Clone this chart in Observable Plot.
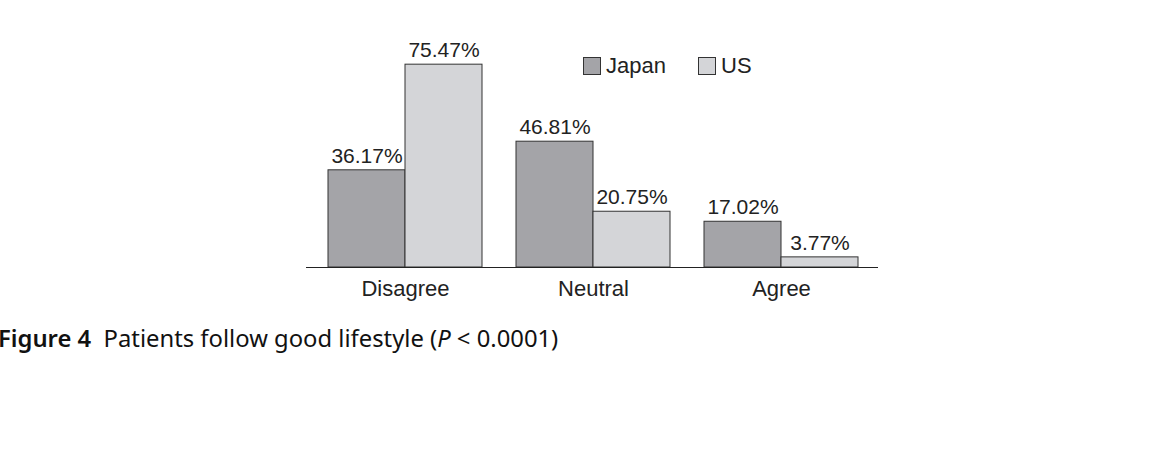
<!DOCTYPE html>
<html>
<head>
<meta charset="utf-8">
<script src="https://cdn.jsdelivr.net/npm/d3@7"></script>
<script src="https://cdn.jsdelivr.net/npm/@observablehq/plot@0.6"></script>
<style>
  body { margin: 0; background: #fff; width: 1163px; height: 460px; overflow: hidden; position: relative; }
  #chart { position: absolute; left: 0; top: 0; }
  .legend { position: absolute; top: 53px; font-family: "Liberation Sans", Arial, sans-serif; font-size: 22px; color: #222; display: flex; align-items: center; }
  .sw { width: 16px; height: 16px; border: 1px solid #333; margin-right: 5px; }
  #caption { position: absolute; left: -2px; top: 322px; font-family: "Noto Sans", "Open Sans", sans-serif; font-size: 23.8px; color: #111; white-space: pre; }
</style>
</head>
<body>
<div id="chart"></div>
<div class="legend" style="left:583px"><div class="sw" style="background:#a4a4a8"></div>Japan</div>
<div class="legend" style="left:698px"><div class="sw" style="background:#d4d5d8"></div>US</div>
<div id="caption"><b style="font-weight:600">Figure 4</b>  Patients follow good lifestyle (<i>P</i> &lt; 0.0001)</div>
<script>
const categories = ["Disagree", "Neutral", "Agree"];
const countries = ["Japan", "US"];
const japanValues = [36.17, 46.81, 17.02];
const usValues = [75.47, 20.75, 3.77];
const colors = ["#a4a4a8", "#d4d5d8"];

const data = [];
categories.forEach((c, i) => {
  data.push({category: c, country: "Japan", value: japanValues[i]});
  data.push({category: c, country: "US", value: usValues[i]});
});

const chart = Plot.plot({
  width: 1163,
  height: 310,
  marginLeft: 305,
  marginRight: 283,
  marginTop: 52,
  marginBottom: 43,
  style: {fontFamily: "'Liberation Sans', Arial, sans-serif", fontSize: "22px", color: "#222", background: "transparent"},
  fx: {domain: categories, paddingInner: 0.181, paddingOuter: 0.112, label: null, tickSize: 0, tickPadding: 13, axis: "bottom"},
  x: {domain: countries, padding: 0, axis: null},
  y: {domain: [0, 80], axis: null},
  color: {domain: countries, range: colors},
  marks: [
    Plot.barY(data, {fx: "category", x: "country", y: "value", fill: "country", stroke: "#333", strokeWidth: 1}),
    Plot.text(data, {fx: "category", x: "country", y: "value", text: d => d.value.toFixed(2) + "%", dy: -14, fontSize: 21, fill: "#222"}),
    Plot.ruleY([0], {stroke: "#222", strokeWidth: 1.2, insetLeft: -22, insetRight: -20})
  ]
});
document.getElementById("chart").appendChild(chart);
</script>
</body>
</html>
